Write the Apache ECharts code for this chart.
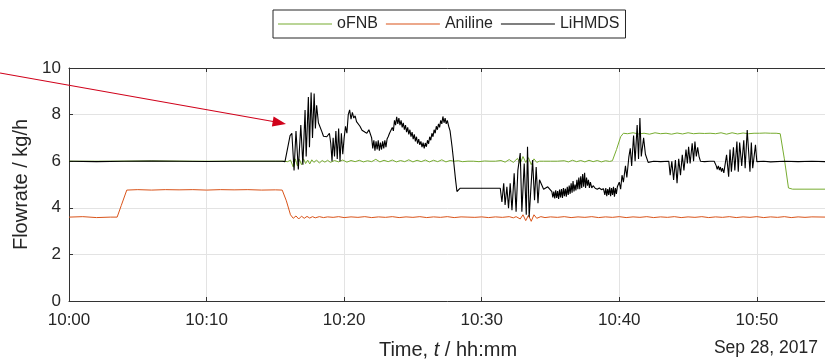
<!DOCTYPE html>
<html><head><meta charset="utf-8">
<script src="https://cdn.jsdelivr.net/npm/echarts@6/dist/echarts.min.js"></script>
<style>html,body{margin:0;padding:0;background:#fff}#c{width:825px;height:360px}</style>
</head><body><div id="c"></div>
<script>
// minutes after 10:00 -> flowrate (kg/h)
const seriesNames = ['oFNB', 'Aniline', 'LiHMDS'];
const xTickLabels = ['10:00', '10:10', '10:20', '10:30', '10:40', '10:50'];
const yTicks = [0, 2, 4, 6, 8, 10];
const dateLabel = 'Sep 28, 2017';

const fnbData = [
 [0,6.00],[3,6.00],[6,6.01],[9,6.00],[12,6.00],[15,6.00],[15.6,6.00],[15.9,5.98],[16.1,6.05],[16.3,5.75],[16.45,6.10],[16.6,5.80],[16.75,6.08],[16.9,5.85],[17.05,6.10],[17.2,5.90],[17.35,6.05],[17.5,5.88],[17.65,6.06],[17.8,5.95],[18.0,6.05],[18.2,5.92],[18.4,6.03],[18.6,5.96],[18.8,6.04],[19.0,5.95],[19.3,6.03],[19.6,5.97],[19.9,6.05],[20.2,5.96],[20.5,6.03],[20.8,5.98],[21.1,6.04],[21.4,5.97],[21.7,6.02],[22.0,5.98],[22.3,6.08],[22.6,5.97],[22.9,6.04],[23.2,5.98],[23.5,6.05],[23.8,5.97],[24.1,6.03],[24.4,5.98],[24.7,6.06],[25.0,5.97],[25.3,6.04],[25.6,5.98],[25.9,6.05],[26.2,5.97],[26.5,6.04],[26.8,5.98],[27.1,6.06],[27.4,5.97],[27.7,6.03],[28.0,6.00],[28.3,6.02],[28.6,5.98],[29.0,6.00],[29.4,6.00],[29.8,5.98],[30.2,6.01],[30.6,6.00],[31.0,6.00],[31.4,6.03],[31.7,5.96],[32.0,6.07],[32.3,5.95],[32.6,6.12],[32.8,5.90],[33.0,6.20],[33.2,5.95],[33.4,6.15],[33.6,5.85],[33.8,6.10],[34.0,5.95],[34.2,6.00],[34.5,6.00],[35.0,6.00],[35.5,6.00],[36.0,6.02],[36.3,5.97],[36.6,6.04],[36.9,5.98],[37.2,6.03],[37.5,5.97],[37.8,6.04],[38.1,5.98],[38.4,6.03],[38.7,5.97],[39.0,6.02],[39.3,5.99],[39.5,6.02],[39.8,6.50],[40.1,7.05],[40.3,7.20],[40.6,7.18],[41.0,7.22],[41.4,7.17],[41.8,7.20],[42.2,7.16],[42.6,7.22],[43.0,7.18],[43.4,7.20],[43.8,7.16],[44.2,7.21],[44.6,7.17],[45.0,7.22],[45.4,7.18],[45.8,7.20],[46.2,7.19],[46.6,7.20],[47.0,7.18],[47.4,7.22],[47.8,7.16],[48.2,7.22],[48.6,7.17],[49.0,7.21],[49.4,7.18],[49.8,7.20],[50.2,7.20],[50.6,7.21],[51.0,7.20],[51.4,7.20],[51.7,7.18],[52.0,6.10],[52.3,4.85],[52.6,4.80],[53.5,4.80],[55.1,4.80]
];

const anilineData = [
 [0,3.60],[1,3.62],[2,3.58],[3,3.60],[3.5,3.60],[3.8,4.10],[4.2,4.76],[5,4.78],[6,4.76],[7,4.78],[8,4.77],[9,4.78],[10,4.76],[11,4.78],[12,4.77],[13,4.78],[14,4.76],[15,4.77],[15.5,4.76],[15.8,4.30],[16.1,3.70],[16.3,3.55],[16.5,3.65],[16.7,3.52],[16.9,3.64],[17.1,3.55],[17.3,3.63],[17.5,3.56],[17.7,3.62],[17.9,3.57],[18.2,3.62],[18.5,3.58],[18.8,3.61],[19.2,3.59],[19.6,3.62],[20.0,3.58],[20.5,3.61],[21.0,3.59],[21.5,3.62],[22.0,3.58],[22.5,3.61],[23.0,3.59],[23.5,3.62],[24.0,3.58],[24.5,3.61],[25.0,3.59],[25.5,3.62],[26.0,3.58],[26.5,3.61],[27.0,3.59],[27.5,3.62],[28.0,3.58],[28.5,3.61],[29.0,3.60],[29.5,3.59],[30.0,3.61],[30.5,3.58],[31.0,3.61],[31.5,3.59],[32.0,3.62],[32.3,3.57],[32.5,3.62],[32.8,3.52],[33.0,3.70],[33.2,3.45],[33.4,3.68],[33.6,3.42],[33.8,3.70],[34.0,3.55],[34.3,3.62],[34.6,3.58],[35.0,3.61],[35.5,3.59],[36.0,3.62],[36.5,3.58],[37.0,3.61],[37.5,3.59],[38.0,3.62],[38.5,3.58],[39.0,3.61],[39.5,3.59],[40.0,3.62],[40.5,3.58],[41.0,3.61],[41.5,3.59],[42.0,3.62],[42.5,3.58],[43.0,3.61],[43.5,3.59],[44.0,3.62],[44.5,3.58],[45.0,3.61],[45.5,3.59],[46.0,3.62],[46.5,3.58],[47.0,3.61],[47.5,3.59],[48.0,3.62],[48.5,3.58],[49.0,3.61],[49.5,3.59],[50.0,3.62],[50.5,3.58],[51.0,3.61],[51.5,3.59],[52.0,3.62],[52.5,3.58],[53.0,3.61],[53.5,3.59],[54.0,3.61],[55.1,3.60]
];

const lihmdsData = [
 [0,6.00],[2,5.98],[4,6.00],[6,6.01],[8,6.00],[10,5.99],[12,6.00],[14,6.00],[15.5,6.00],[15.7,5.98],[16.07,7.10],[16.2,7.20],[16.36,5.60],[16.5,7.30],[16.67,5.65],[16.85,7.55],[17.0,5.85],[17.16,8.20],[17.24,6.20],[17.4,8.75],[17.48,6.60],[17.6,8.95],[17.7,7.00],[17.82,8.90],[17.91,7.40],[18.0,8.40],[18.13,7.65],[18.25,7.60],[18.38,7.27],[18.5,7.07],[18.74,7.05],[18.93,7.20],[19.03,6.75],[19.12,6.00],[19.2,7.00],[19.3,6.20],[19.4,7.30],[19.5,6.10],[19.6,7.40],[19.7,6.00],[19.8,7.20],[19.9,6.30],[20.0,7.00],[20.1,7.50],[20.2,7.20],[20.3,8.00],[20.4,8.20],[20.5,7.80],[20.6,8.10],[20.7,7.85],[20.8,7.95],[20.9,7.70],[21.04,7.65],[21.15,7.50],[21.3,7.33],[21.5,7.25],[21.65,7.20],[21.8,7.35],[21.9,7.30],
 [22.0,7.00],[22.08,6.55],[22.16,6.90],[22.24,6.45],[22.32,6.85],[22.4,6.50],[22.48,6.90],[22.56,6.45],[22.64,6.80],[22.72,6.50],[22.8,6.85],[22.88,6.55],[22.96,6.90],[23.04,6.60],[23.12,6.95],[23.2,7.05],[23.3,7.20],[23.4,7.15],[23.5,7.45],[23.58,7.30],[23.66,7.75],[23.74,7.55],[23.82,7.90],[23.9,7.60],[23.98,7.85],[24.06,7.55],[24.14,7.75],[24.22,7.45],[24.3,7.65],[24.38,7.35],[24.46,7.55],[24.54,7.25],[24.62,7.45],[24.7,7.15],[24.78,7.35],[24.86,7.05],[24.94,7.25],[25.02,6.95],[25.1,7.15],[25.18,6.85],[25.26,7.05],[25.34,6.75],[25.42,6.95],[25.5,6.70],[25.58,6.85],[25.66,6.60],[25.74,6.80],[25.82,6.55],[25.9,6.78],[25.98,6.62],[26.06,6.90],[26.14,6.75],[26.22,7.05],[26.3,6.90],[26.38,7.20],[26.46,7.05],[26.54,7.35],[26.62,7.20],[26.7,7.50],[26.78,7.35],[26.86,7.60],[26.94,7.45],[27.02,7.75],[27.1,7.60],[27.18,7.92],[27.26,7.65],[27.34,7.85],[27.42,7.60],[27.5,7.75],[27.6,7.50],[27.7,7.30],
 [27.85,6.60],[27.95,6.05],[28.1,5.20],[28.2,4.70],[28.3,4.75],[28.44,4.84],[29.5,4.84],[30.5,4.84],[31.35,4.84],[31.47,4.25],[31.6,5.05],[31.7,4.12],[31.83,4.90],[31.95,3.98],[32.07,5.05],[32.2,3.90],[32.36,5.48],[32.5,3.83],[32.63,5.62],[32.8,6.35],[32.92,3.83],[33.09,5.90],[33.24,3.70],[33.33,6.62],[33.45,3.60],[33.58,3.55],[33.7,6.05],[33.84,4.33],[33.96,5.75],[34.09,4.20],[34.2,5.20],[34.35,5.00],[34.5,4.80],[34.62,4.76],[34.8,4.90],[35.1,4.69],
 [35.17,4.45],[35.24,4.70],[35.31,4.40],[35.38,4.75],[35.45,4.42],[35.52,4.72],[35.59,4.38],[35.66,4.78],[35.73,4.45],[35.8,4.80],[35.87,4.42],[35.94,4.85],[36.01,4.50],[36.08,4.82],[36.15,4.48],[36.22,4.90],[36.29,4.55],[36.36,4.95],[36.43,4.60],[36.5,5.05],[36.57,4.65],[36.64,5.15],[36.71,4.70],[36.78,5.00],[36.85,4.75],[36.92,5.20],[36.99,4.80],[37.06,5.30],[37.13,4.80],[37.2,5.35],[37.27,4.85],[37.34,5.45],[37.41,4.90],[37.48,5.50],[37.55,4.85],[37.62,5.30],[37.69,4.95],[37.76,5.20],[37.83,4.85],[37.9,5.10],[38.0,4.85],[38.1,4.95],[38.25,4.84],[38.4,4.80],[38.55,4.85],[38.7,4.78],[38.85,4.82],[38.95,4.55],[39.02,4.85],[39.09,4.50],[39.16,4.80],[39.23,4.55],[39.3,4.88],[39.37,4.50],[39.44,4.85],[39.51,4.55],[39.58,4.90],[39.65,4.48],[39.72,4.85],[39.79,4.60],[39.86,4.90],
 [40.0,5.10],[40.1,4.80],[40.2,5.40],[40.3,5.10],[40.45,5.80],[40.55,5.30],[40.7,6.20],[40.8,6.55],[40.9,5.80],[41.04,7.10],[41.15,6.00],[41.3,7.55],[41.4,6.10],[41.5,7.85],[41.6,6.20],[41.77,7.00],[41.9,6.30],[42.1,5.95],[42.5,6.00],[43.0,5.98],[43.6,6.00],[43.7,5.40],[43.82,6.00],[43.95,5.20],[44.08,6.05],[44.2,5.05],[44.32,6.10],[44.45,5.40],[44.58,6.27],[44.7,5.60],[44.85,6.50],[44.95,5.90],[45.04,6.62],[45.15,5.90],[45.3,6.77],[45.4,6.00],[45.5,6.84],[45.6,6.20],[45.7,6.60],[45.8,6.20],[45.9,6.00],[46.2,5.98],[46.6,6.00],[46.9,6.00],[47.05,5.80],[47.12,5.65],[47.2,5.80],[47.28,5.62],[47.35,5.75],[47.43,5.55],[47.5,5.70],[47.6,5.50],[47.7,5.48],[47.8,6.27],[47.95,5.33],[48.05,6.50],[48.15,5.55],[48.3,6.60],[48.4,5.60],[48.55,6.84],[48.65,5.55],[48.75,6.80],[48.9,5.80],[49.05,6.90],[49.15,5.70],[49.3,7.34],[49.5,5.55],[49.6,6.80],[49.7,5.70],[49.9,6.70],[50.0,5.98],[50.5,6.00],[51.0,5.97],[52.0,6.00],[53.0,5.98],[54.0,6.00],[55.1,5.98]
];

const colors = ['#77ac30', '#d95319', '#000000'];
const axisColor = '#333333';
const textColor = '#262626';
const font = "'Liberation Sans', Arial, sans-serif";

const chart = echarts.init(document.getElementById('c'), null, {renderer: 'canvas'});
const xCommon = {
  type: 'value', min: 0, max: 55.1, interval: 10,
  axisLine: {show: true, onZero: false, lineStyle: {color: axisColor, width: 1}},
  axisTick: {show: true, inside: true, length: 4, lineStyle: {color: axisColor}}
};
chart.setOption({
  animation: false,
  backgroundColor: '#ffffff',
  color: colors,
  grid: {left: 69, right: -2, top: 68, bottom: 59, containLabel: false, outerBoundsMode: 'none'},
  legend: {
    data: seriesNames, left: 273, top: 10, orient: 'horizontal',
    icon: 'rect', itemWidth: 54, itemHeight: 1, itemGap: 8,
    padding: [6, 6, 6, 5], borderColor: '#262626', borderWidth: 1, backgroundColor: '#ffffff',
    textStyle: {fontSize: 16, color: textColor, fontFamily: font}
  },
  xAxis: [
    Object.assign({}, xCommon, {
      position: 'bottom',
      name: 'Time, {i|t} / hh:mm', nameLocation: 'middle', nameGap: 39,
      nameTextStyle: {fontSize: 20, color: textColor, fontFamily: font,
        rich: {i: {fontStyle: 'italic', fontSize: 20, color: textColor, fontFamily: font}}},
      axisLabel: {fontSize: 17, color: textColor, fontFamily: font, margin: 11,
        formatter: v => (v % 10 === 0 && xTickLabels[v / 10] !== undefined) ? xTickLabels[v / 10] : ''},
      splitLine: {show: true, lineStyle: {color: '#e3e3e3', width: 1}}
    }),
    Object.assign({}, xCommon, {
      position: 'top', axisLabel: {show: false}, splitLine: {show: false}
    })
  ],
  yAxis: {
    type: 'value', min: yTicks[0], max: yTicks[yTicks.length - 1], interval: 2,
    name: 'Flowrate / kg/h', nameLocation: 'middle', nameGap: 27,
    nameTextStyle: {fontSize: 20, color: textColor, fontFamily: font},
    axisLine: {show: true, lineStyle: {color: axisColor, width: 1}},
    axisTick: {show: true, inside: true, length: 4, lineStyle: {color: axisColor}},
    axisLabel: {fontSize: 17, color: textColor, fontFamily: font, margin: 8},
    splitLine: {show: true, lineStyle: {color: '#e3e3e3', width: 1}}
  },
  series: [
    {name: seriesNames[0], type: 'line', data: fnbData, showSymbol: false, symbol: 'none', lineStyle: {width: 1, color: colors[0]}, z: 2},
    {name: seriesNames[1], type: 'line', data: anilineData, showSymbol: false, symbol: 'none', lineStyle: {width: 1, color: colors[1]}, z: 3},
    {name: seriesNames[2], type: 'line', data: lihmdsData, showSymbol: false, symbol: 'none', lineStyle: {width: 1.1, color: colors[2]}, z: 4}
  ],
  graphic: [
    {type: 'line', shape: {x1: 0, y1: 73, x2: 276, y2: 122}, style: {stroke: '#d0021b', lineWidth: 1.2}, z: 10},
    {type: 'polygon', shape: {points: [[286, 124], [273.6, 116.6], [271.9, 126.4]]}, style: {fill: '#d0021b'}, z: 10},
    {type: 'text', right: 7, top: 339, style: {text: dateLabel, fontSize: 17.5, fill: textColor, fontFamily: font}}
  ]
});
</script>
</body></html>
